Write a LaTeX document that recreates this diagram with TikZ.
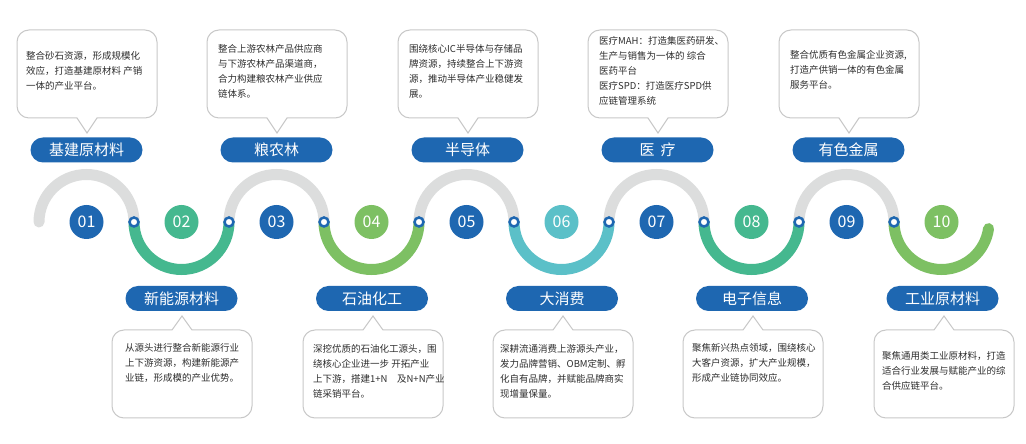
\documentclass[tikz,border=0pt]{standalone}
\usepackage{fontspec}
\setmainfont{Noto Sans CJK SC}
\definecolor{cblue}{HTML}{1E67B1}
\definecolor{cteal}{HTML}{45B88F}
\definecolor{clime}{HTML}{7DC063}
\definecolor{ccyan}{HTML}{5BC0C8}
\definecolor{cgrey}{HTML}{DCDDDD}
\definecolor{cborder}{HTML}{C8C8C8}
\definecolor{ctext}{HTML}{2E2E2E}
\tikzset{
 pill/.style={fill=cblue, rounded corners=12.5pt, minimum width=112pt, minimum height=25pt, inner sep=0pt, text=white, font=\fontsize{15}{15}\selectfont},
 num/.style={circle, fill=#1, minimum size=34pt, inner sep=0pt, text=white, font=\fontsize{16}{16}\selectfont},
 desc/.style={inner sep=0pt, align=left, text=ctext, font=\fontsize{9.5}{15}\selectfont, anchor=west},
 bubble/.style={draw=cborder, line width=1pt, fill=white},
 wave/.style={line width=11pt},
 ring/.style={circle, draw=cblue, line width=2.5pt, fill=white, minimum size=9pt, inner sep=0pt},
}
\newcommand\topbubble[1]{\draw[bubble] (#1-40,326) -- (#1-10,326) -- (#1,311) -- (#1+10,326) -- (#1+20,326) [rounded corners=12pt] -- (#1+70,326) -- (#1+70,414) -- (#1-70,414) -- (#1-70,326) -- cycle;}
\newcommand\botbubble[1]{\draw[bubble] (#1-40,114) -- (#1-10,114) -- (#1,128) -- (#1+10,114) -- (#1+20,114) [rounded corners=12pt] -- (#1+70,114) -- (#1+70,26) -- (#1-70,26) -- (#1-70,114) -- cycle;}
\begin{document}
\begin{tikzpicture}[x=1pt,y=1pt]
\useasboundingbox[fill=white] (0,0) rectangle (1026,444);
% wave: grey upper arcs
\draw[wave, cgrey, line cap=round] (39,222) arc[start angle=180, end angle=0, radius=47.5];
\foreach \k in {2,4,6,8}{
  \draw[wave, cgrey] (39+95*\k,222) arc[start angle=180, end angle=0, radius=47.5];
}
% coloured lower arcs
\draw[wave, cteal] (134,222) arc[start angle=180, end angle=360, radius=47.5];
\draw[wave, clime] (324,222) arc[start angle=180, end angle=360, radius=47.5];
\draw[wave, ccyan] (514,222) arc[start angle=180, end angle=360, radius=47.5];
\draw[wave, cteal] (704,222) arc[start angle=180, end angle=360, radius=47.5];
\draw[wave, clime, line cap=round] (894,222) arc[start angle=180, end angle=352, radius=47.5];
% junction rings
\foreach \j [count=\i] in {134,229,324,419,514,609,704,799,894}{
  \node[ring] (r\i) at (\j,222) {};
}
% number circles
\node[num=cblue] (n01) at (86.5,222) {01};
\node[num=cteal] (n02) at (181.5,222) {02};
\node[num=cblue] (n03) at (276.5,222) {03};
\node[num=clime] (n04) at (371.5,222) {04};
\node[num=cblue] (n05) at (466.5,222) {05};
\node[num=ccyan] (n06) at (561.5,222) {06};
\node[num=cblue] (n07) at (656.5,222) {07};
\node[num=cteal] (n08) at (751.5,222) {08};
\node[num=cblue] (n09) at (846.5,222) {09};
\node[num=clime] (n10) at (941.5,222) {10};
% top labels
\node[pill] (l1) at (86.5,294) {基建原材料};
\node[pill] (l3) at (276.5,294) {粮农林};
\node[pill] (l5) at (467.5,294) {半导体};
\node[pill] (l7) at (657.5,294) {医\hspace{6pt}疗};
\node[pill] (l9) at (848.5,294) {有色金属};
% bottom labels
\node[pill] (l2) at (181.5,145.5) {新能源材料};
\node[pill] (l4) at (372,145.5) {石油化工};
\node[pill] (l6) at (562,145.5) {大消费};
\node[pill] (l8) at (752,145.5) {电子信息};
\node[pill] (l10) at (942.5,145.5) {工业原材料};
% top bubbles
\topbubble{87}
\topbubble{277}
\topbubble{468}
\topbubble{658}
\topbubble{849}
\node[desc] (t1) at (26,373) {整合砂石资源，形成规模化\\效应，打造基建原材料 产销\\一体的产业平台。};
\node[desc] (t3) at (218,373) {整合上游农林产品供应商\\与下游农林产品渠道商，\\合力构建粮农林产业供应\\链体系。};
\node[desc] (t5) at (409,373) {围绕核心IC半导体与存储品\\牌资源，持续整合上下游资\\源，推动半导体产业稳健发\\展。};
\node[desc] (t7) at (599,373) {医疗MAH：打造集医药研发、\\生产与销售为一体的 综合\\医药平台\\医疗SPD：打造医疗SPD供\\应链管理系统};
\node[desc] (t9) at (790,374) {整合优质有色金属企业资源,\\打造产供销一体的有色金属\\服务平台。};
% bottom bubbles
\botbubble{182}
\botbubble{373}
\botbubble{563}
\botbubble{753}
\botbubble{944}
\node[desc] (t2) at (125,81) {从源头进行整合新能源行业\\上下游资源，构建新能源产\\业链，形成模的产业优势。};
\node[desc] (t4) at (313,73) {深挖优质的石油化工源头，围\\绕核心企业进一步 开拓产业\\上下游，搭建1+N\quad 及N+N产业\\链采销平台。};
\node[desc] (t6) at (500,73) {深耕流通消费上游源头产业，\\发力品牌营销、OBM定制、孵\\化自有品牌，并赋能品牌商实\\现增量保量。};
\node[desc] (t8) at (692,81) {聚焦新兴热点领域，围绕核心\\大客户资源，扩大产业规模，\\形成产业链协同效应。};
\node[desc] (t10) at (882,73) {聚焦通用类工业原材料，打造\\适合行业发展与赋能产业的综\\合供应链平台。};
\end{tikzpicture}
\end{document}
